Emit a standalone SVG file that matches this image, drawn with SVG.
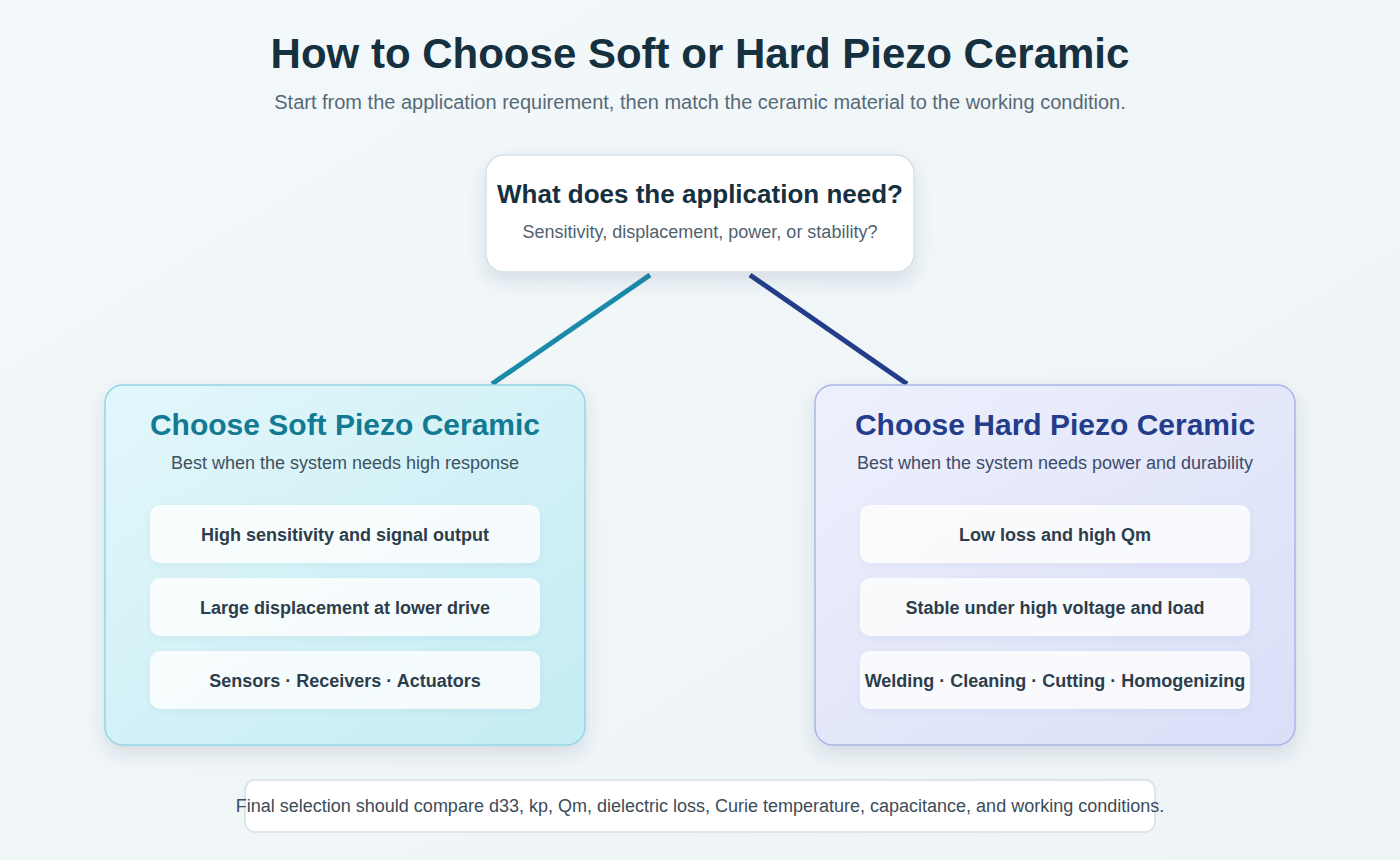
<svg xmlns="http://www.w3.org/2000/svg" width="1400" height="860" viewBox="0 0 1400 860">
<defs>
<linearGradient id="bg" x1="0" y1="0" x2="1" y2="1">
<stop offset="0" stop-color="#f3f9fb"/><stop offset="1" stop-color="#eef3f6"/>
</linearGradient>
<linearGradient id="soft" x1="0" y1="0" x2="1" y2="1">
<stop offset="0" stop-color="#e2f7fb"/><stop offset="1" stop-color="#c4ecf3"/>
</linearGradient>
<linearGradient id="hard" x1="0" y1="0" x2="1" y2="1">
<stop offset="0" stop-color="#eef0fc"/><stop offset="1" stop-color="#d9dff8"/>
</linearGradient>
<filter id="sh" x="-20%" y="-20%" width="140%" height="150%">
<feDropShadow dx="0" dy="8" stdDeviation="9" flood-color="#2a4a5a" flood-opacity="0.14"/>
</filter>
<filter id="sh2" x="-10%" y="-30%" width="120%" height="160%">
<feDropShadow dx="0" dy="2" stdDeviation="3" flood-color="#2a4a5a" flood-opacity="0.06"/>
</filter>
<style>
.t{font-family:"Liberation Sans",Arial,sans-serif;text-anchor:middle}
.h1{font-size:42px;font-weight:bold;fill:#15303f}
.sub{font-size:20px;fill:#566a77}
.qh{font-size:26px;font-weight:bold;fill:#15303f}
.qs{font-size:18px;fill:#4f6270}
.ch{font-size:30px;font-weight:bold}
.cs{font-size:18px}
.it{font-size:18px;font-weight:bold;fill:#2c3e4c}
.item{fill:#ffffff;fill-opacity:0.82}
.ft{font-size:18px;fill:#3c4c58}
</style>
</defs>
<rect width="1400" height="860" fill="url(#bg)"/>
<text class="t h1" x="700" y="68">How to Choose Soft or Hard Piezo Ceramic</text>
<text class="t sub" x="700" y="109">Start from the application requirement, then match the ceramic material to the working condition.</text>
<g id="connectors">
<line x1="650" y1="275" x2="492" y2="384" stroke="#1a8aa8" stroke-width="5"/>
<line x1="750" y1="275" x2="907" y2="384" stroke="#233d8a" stroke-width="5"/>
</g>
<g id="question">
<rect x="486" y="155" width="428" height="117" rx="18" fill="#ffffff" stroke="#d4e2e7" stroke-width="1.5" filter="url(#sh)"/>
<text class="t qh" x="700" y="203">What does the application need?</text>
<text class="t qs" x="700" y="238">Sensitivity, displacement, power, or stability?</text>
</g>
<g id="soft-card">
<rect x="105" y="385" width="480" height="360" rx="18" fill="url(#soft)" stroke="#92d5e3" stroke-width="1.5" filter="url(#sh)"/>
<text class="t ch" x="345" y="435" fill="#137a93">Choose Soft Piezo Ceramic</text>
<text class="t cs" x="345" y="469" fill="#3c5260">Best when the system needs high response</text>
<rect class="item" x="150" y="505" width="390" height="58" rx="10" filter="url(#sh2)"/>
<text class="t it" x="345" y="541">High sensitivity and signal output</text>
<rect class="item" x="150" y="578" width="390" height="58" rx="10" filter="url(#sh2)"/>
<text class="t it" x="345" y="614">Large displacement at lower drive</text>
<rect class="item" x="150" y="651" width="390" height="58" rx="10" filter="url(#sh2)"/>
<text class="t it" x="345" y="687">Sensors · Receivers · Actuators</text>
</g>
<g id="hard-card">
<rect x="815" y="385" width="480" height="360" rx="18" fill="url(#hard)" stroke="#aab5e6" stroke-width="1.5" filter="url(#sh)"/>
<text class="t ch" x="1055" y="435" fill="#233d8a">Choose Hard Piezo Ceramic</text>
<text class="t cs" x="1055" y="469" fill="#3d4b6a">Best when the system needs power and durability</text>
<rect class="item" x="860" y="505" width="390" height="58" rx="10" filter="url(#sh2)"/>
<text class="t it" x="1055" y="541">Low loss and high Qm</text>
<rect class="item" x="860" y="578" width="390" height="58" rx="10" filter="url(#sh2)"/>
<text class="t it" x="1055" y="614">Stable under high voltage and load</text>
<rect class="item" x="860" y="651" width="390" height="58" rx="10" filter="url(#sh2)"/>
<text class="t it" x="1055" y="687">Welding · Cleaning · Cutting · Homogenizing</text>
</g>
<g id="footer">
<rect x="245" y="780" width="910" height="52" rx="10" fill="#ffffff" stroke="#d5e0e6" stroke-width="1.5"/>
<text class="t ft" x="700" y="812">Final selection should compare d33, kp, Qm, dielectric loss, Curie temperature, capacitance, and working conditions.</text>
</g>
</svg>
